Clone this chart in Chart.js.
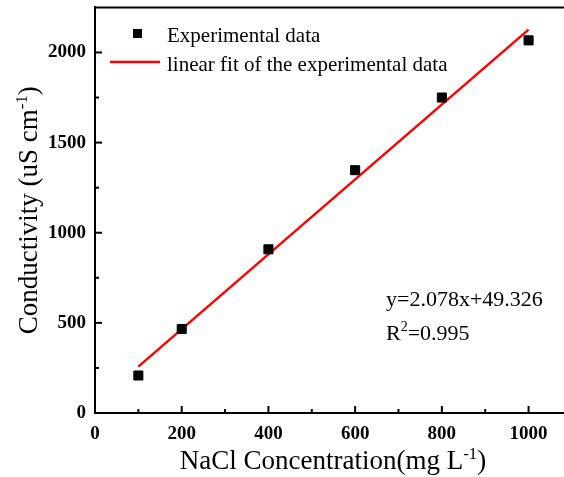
<!DOCTYPE html>
<html>
<head>
<meta charset="utf-8">
<script src="https://cdn.jsdelivr.net/npm/chart.js@4.4.1/dist/chart.umd.min.js"></script>
<style>
  html, body { margin: 0; padding: 0; background: #fff; overflow: hidden; }
</style>
</head>
<body>
<canvas id="conductivity-chart" width="575" height="477"></canvas>
<script>
const serif = '"Liberation Serif", "Times New Roman", serif';

// data
const concentration = [100, 200, 400, 600, 800, 1000];
const conductivity = [208, 466, 908, 1347, 1750, 2067];
const fitX = [100, 1000];
const fitY = [257, 2127];
const xTickLabels = [0, 200, 400, 600, 800, 1000];
const yTickLabels = [0, 500, 1000, 1500, 2000];

// every tick (major and minor) from 0 up to the last label
function tickList(labels) {
    const step = (labels[1] - labels[0]) / 2;
    const out = [];
    for (let v = labels[0]; v <= labels[labels.length - 1]; v += step) out.push({value: v});
    return out;
}

// draws text made of parts, some of them superscript
function drawRich(ctx, parts, x, y, size) {
    let total = 0;
    parts.forEach(p => {
        ctx.font = (p.sup ? size * 0.62 : size) + 'px ' + serif;
        p.w = ctx.measureText(p.t).width;
        total += p.w;
    });
    let cx = x - total / 2;
    parts.forEach(p => {
        ctx.font = (p.sup ? size * 0.62 : size) + 'px ' + serif;
        ctx.fillText(p.t, cx, p.sup ? y - size * 0.38 : y);
        cx += p.w;
    });
}

const decorPlugin = {
    id: 'decor',
    afterDraw(chart) {
        const ctx = chart.ctx;
        const area = chart.chartArea;
        const xs = chart.scales.x;
        const ys = chart.scales.y;
        ctx.save();
        ctx.strokeStyle = '#000';
        ctx.fillStyle = '#000';

        // top and right frame
        ctx.lineWidth = 2;
        ctx.beginPath();
        ctx.moveTo(area.left, area.top);
        ctx.lineTo(area.right, area.top);
        ctx.lineTo(area.right, area.bottom);
        ctx.stroke();

        // inward ticks
        ctx.lineWidth = 2;
        xs.ticks.forEach(t => {
            const px = xs.getPixelForValue(t.value);
            const len = xTickLabels.includes(t.value) ? 7 : 4;
            ctx.beginPath();
            ctx.moveTo(px, area.bottom);
            ctx.lineTo(px, area.bottom - len);
            ctx.stroke();
        });
        ys.ticks.forEach(t => {
            const py = ys.getPixelForValue(t.value);
            const len = yTickLabels.includes(t.value) ? 7 : 4;
            ctx.beginPath();
            ctx.moveTo(area.left, py);
            ctx.lineTo(area.left + len, py);
            ctx.stroke();
        });

        // axis titles
        ctx.textAlign = 'left';
        ctx.textBaseline = 'alphabetic';
        drawRich(ctx, [{t: 'NaCl Concentration(mg L'}, {t: '-1', sup: true}, {t: ')'}],
            333, 469, 27);
        ctx.save();
        ctx.translate(37, (area.top + area.bottom) / 2);
        ctx.rotate(-Math.PI / 2);
        drawRich(ctx, [{t: 'Conductivity (uS cm'}, {t: '-1', sup: true}, {t: ')'}], 0, 0, 27);
        ctx.restore();

        // legend
        const ds = chart.data.datasets;
        ctx.font = '21px ' + serif;
        ctx.fillStyle = ds[0].backgroundColor;
        ctx.fillRect(133, 29, 9, 9);
        ctx.fillStyle = '#000';
        ctx.fillText(ds[0].label, 167, 42);
        ctx.strokeStyle = ds[1].borderColor;
        ctx.lineWidth = 2.5;
        ctx.beginPath();
        ctx.moveTo(110, 62);
        ctx.lineTo(160, 62);
        ctx.stroke();
        ctx.fillText(ds[1].label, 167, 71);

        // fit equation
        ctx.font = '22px ' + serif;
        ctx.fillText('y=2.078x+49.326', 386, 306);
        ctx.fillText('R', 386, 340);
        let w = ctx.measureText('R').width;
        ctx.font = '14px ' + serif;
        ctx.fillText('2', 386 + w, 331);
        let w2 = ctx.measureText('2').width;
        ctx.font = '22px ' + serif;
        ctx.fillText('=0.995', 386 + w + w2, 340);

        ctx.restore();
    }
};

function noPadding(scale) {
    scale.paddingTop = 0;
    scale.paddingBottom = 0;
    scale.paddingLeft = 0;
    scale.paddingRight = 0;
}

const ctx1 = document.getElementById('conductivity-chart').getContext('2d');

const data = {
    datasets: [{
        type: 'scatter',
        label: 'Experimental data',
        data: concentration.map((c, i) => ({x: c, y: conductivity[i]})),
        backgroundColor: '#000',
        borderColor: '#000',
        pointStyle: 'rect',
        pointRadius: 6.4,
        pointHoverRadius: 6.4,
        order: 0
    }, {
        type: 'line',
        label: 'linear fit of the experimental data',
        data: fitX.map((c, i) => ({x: c, y: fitY[i]})),
        borderColor: '#ff0000',
        borderWidth: 2.5,
        pointRadius: 0,
        fill: false,
        order: 1
    }]
};

const conductivityChart = {
    data: data,
    options: {
        responsive: false,
        animation: false,
        layout: { padding: { left: 0, top: 7, right: 3, bottom: 0 } },
        plugins: {
            legend: { display: false },
            tooltip: { enabled: false }
        },
        scales: {
            x: {
                type: 'linear',
                min: 0,
                max: 1090,
                grid: { display: false, drawTicks: false },
                border: { display: true, color: '#000', width: 2 },
                afterBuildTicks(scale) { scale.ticks = tickList(xTickLabels); },
                ticks: {
                    autoSkip: false,
                    maxRotation: 0,
                    padding: 10,
                    color: '#000',
                    font: { family: serif, size: 19, weight: 'bold' },
                    callback: v => xTickLabels.includes(v) ? String(v) : ''
                },
                afterFit(scale) { scale.height = 64; noPadding(scale); }
            },
            y: {
                type: 'linear',
                min: 0,
                max: 2250,
                grid: { display: false, drawTicks: false },
                border: { display: true, color: '#000', width: 2 },
                afterBuildTicks(scale) { scale.ticks = tickList(yTickLabels); },
                ticks: {
                    autoSkip: false,
                    padding: 9,
                    color: '#000',
                    font: { family: serif, size: 19, weight: 'bold' },
                    callback: v => yTickLabels.includes(v) ? String(v) : ''
                },
                afterFit(scale) { scale.width = 95; noPadding(scale); }
            }
        }
    },
    plugins: [decorPlugin]
};

new Chart(ctx1, conductivityChart);
</script>
</body>
</html>
